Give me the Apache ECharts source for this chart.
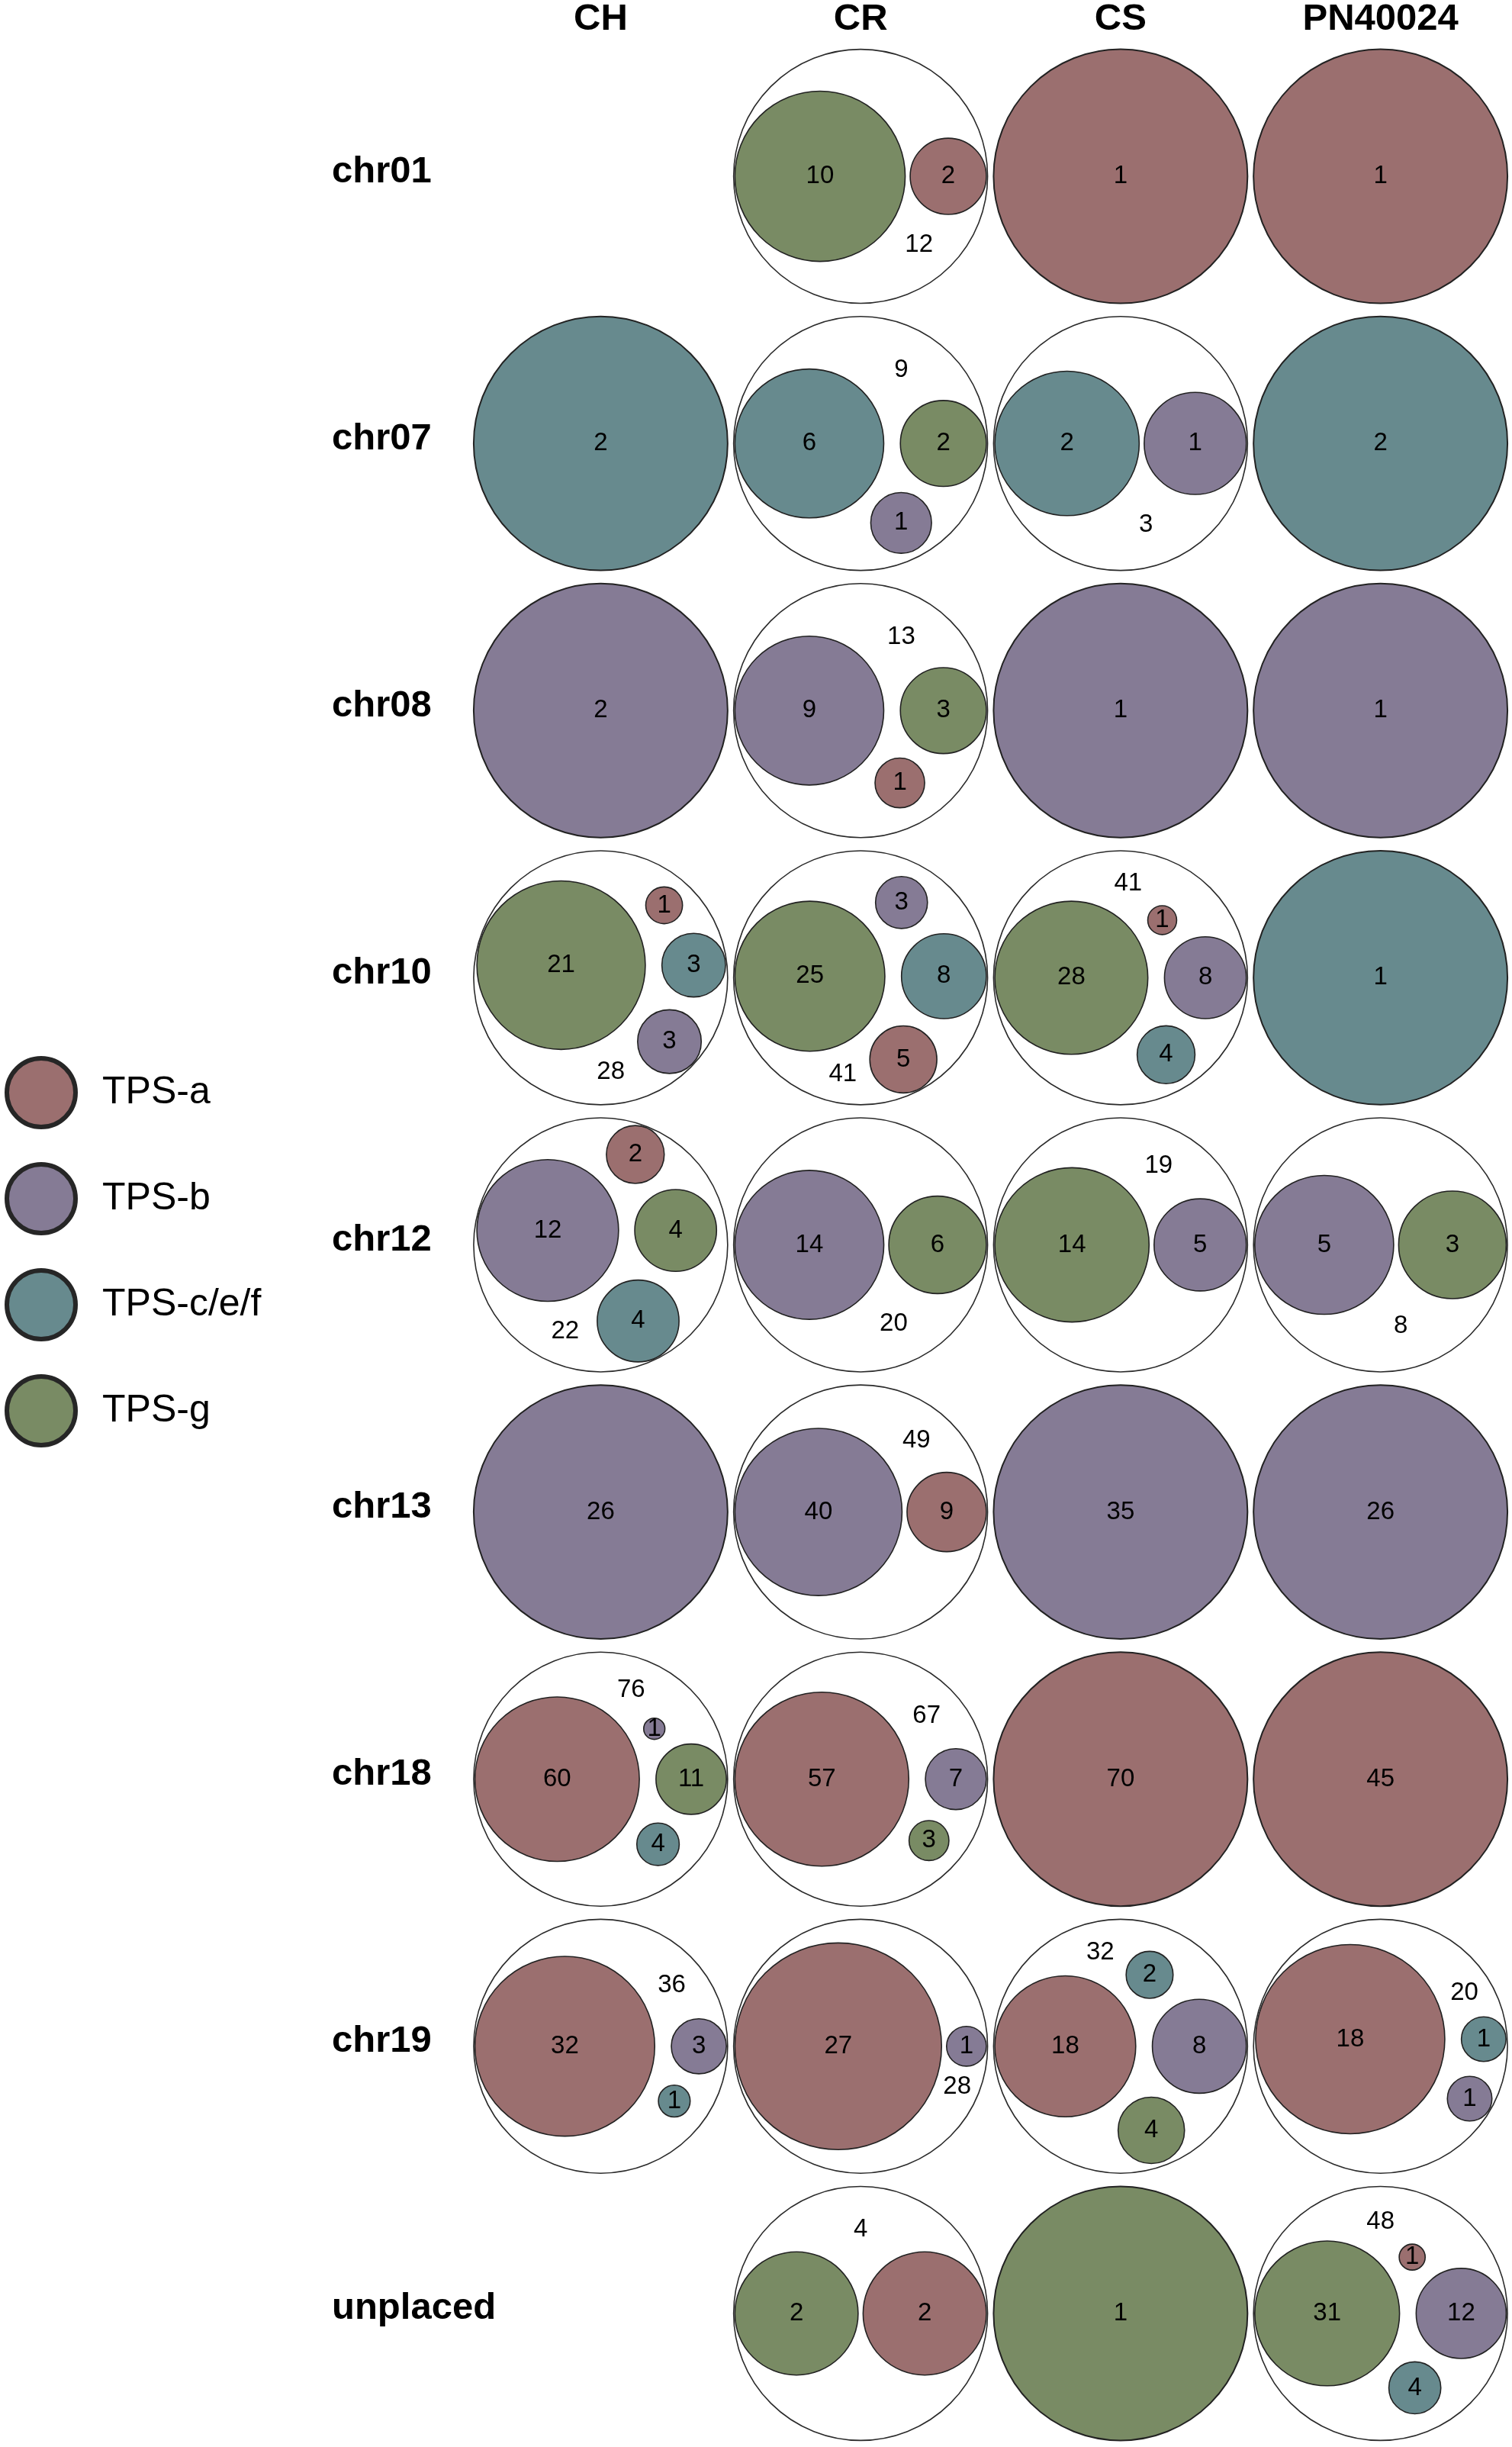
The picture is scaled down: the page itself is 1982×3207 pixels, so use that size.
<!DOCTYPE html>
<html>
<head>
<meta charset="utf-8">
<title>TPS subfamilies per chromosome</title>
<script src="https://cdn.jsdelivr.net/npm/echarts@6/dist/echarts.min.js"></script>
<style>
html, body { margin: 0; padding: 0; background: #fff; }
#container { width: 1982px; height: 3207px; }
</style>
</head>
<body>
<div id="container"></div>
<script>
var genomes = ['CH', 'CR', 'CS', 'PN40024'];
var chromosomes = ['chr01', 'chr07', 'chr08', 'chr10', 'chr12', 'chr13', 'chr18', 'chr19', 'unplaced'];
var families = ['TPS-a', 'TPS-b', 'TPS-c/e/f', 'TPS-g'];
var familyColors = ['#9b6f6f', '#857b95', '#678a8e', '#798b64'];

// gene counts, one row per chromosome, columns CH, CR, CS, PN40024
var tpsA = [
  [0, 2, 1, 1],
  [0, 0, 0, 0],
  [0, 1, 0, 0],
  [1, 5, 1, 0],
  [2, 0, 0, 0],
  [0, 9, 0, 0],
  [60, 57, 70, 45],
  [32, 27, 18, 18],
  [0, 2, 0, 1]
];
var tpsB = [
  [0, 0, 0, 0],
  [0, 1, 1, 0],
  [2, 9, 1, 1],
  [3, 3, 8, 0],
  [12, 14, 5, 5],
  [26, 40, 35, 26],
  [1, 7, 0, 0],
  [3, 1, 8, 1],
  [0, 0, 0, 12]
];
var tpsCEF = [
  [0, 0, 0, 0],
  [2, 6, 2, 2],
  [0, 0, 0, 0],
  [3, 8, 4, 1],
  [4, 0, 0, 0],
  [0, 0, 0, 0],
  [4, 0, 0, 0],
  [1, 0, 2, 1],
  [0, 0, 0, 4]
];
var tpsG = [
  [0, 10, 0, 0],
  [0, 2, 0, 0],
  [0, 3, 0, 0],
  [21, 25, 28, 0],
  [4, 6, 14, 3],
  [0, 0, 0, 0],
  [11, 3, 0, 0],
  [0, 0, 4, 0],
  [0, 2, 1, 31]
];
var counts = [tpsA, tpsB, tpsCEF, tpsG];

var FONT = "'Liberation Sans', Arial, Helvetica, sans-serif";

// ---- circle packing (front-chain, same idea as d3.packSiblings) ----
function place(b, a, c) {
  var dx = b.x - a.x, dy = b.y - a.y, d2 = dx * dx + dy * dy, x, y, a2, b2;
  if (d2) {
    a2 = a.r + c.r; a2 *= a2;
    b2 = b.r + c.r; b2 *= b2;
    if (a2 > b2) {
      x = (d2 + b2 - a2) / (2 * d2);
      y = Math.sqrt(Math.max(0, b2 / d2 - x * x));
      c.x = b.x - x * dx - y * dy;
      c.y = b.y - x * dy + y * dx;
    } else {
      x = (d2 + a2 - b2) / (2 * d2);
      y = Math.sqrt(Math.max(0, a2 / d2 - x * x));
      c.x = a.x + x * dx - y * dy;
      c.y = a.y + x * dy + y * dx;
    }
  } else {
    c.x = a.x + c.r; c.y = a.y;
  }
}
function intersects(a, b) {
  var dr = a.r + b.r - 1e-6, dx = b.x - a.x, dy = b.y - a.y;
  return dr > 0 && dr * dr > dx * dx + dy * dy;
}
function score(node) {
  var a = node._, b = node.next._, ab = a.r + b.r,
      dx = (a.x * b.r + b.x * a.r) / ab, dy = (a.y * b.r + b.y * a.r) / ab;
  return dx * dx + dy * dy;
}
function encloseBasis2(a, b) {
  var x21 = b.x - a.x, y21 = b.y - a.y, r21 = b.r - a.r, l = Math.sqrt(x21 * x21 + y21 * y21);
  return { x: (a.x + b.x + x21 / l * r21) / 2, y: (a.y + b.y + y21 / l * r21) / 2, r: (l + a.r + b.r) / 2 };
}
function encloseBasis3(a, b, c) {
  var x1 = a.x, y1 = a.y, r1 = a.r, x2 = b.x, y2 = b.y, r2 = b.r, x3 = c.x, y3 = c.y, r3 = c.r,
      a2 = x1 - x2, a3 = x1 - x3, b2 = y1 - y2, b3 = y1 - y3, c2 = r2 - r1, c3 = r3 - r1,
      d1 = x1 * x1 + y1 * y1 - r1 * r1,
      d2 = d1 - x2 * x2 - y2 * y2 + r2 * r2,
      d3 = d1 - x3 * x3 - y3 * y3 + r3 * r3,
      ab = a3 * b2 - a2 * b3,
      xa = (b2 * d3 - b3 * d2) / (ab * 2) - x1, xb = (b3 * c2 - b2 * c3) / ab,
      ya = (a3 * d2 - a2 * d3) / (ab * 2) - y1, yb = (a2 * c3 - a3 * c2) / ab,
      A = xb * xb + yb * yb - 1, B = 2 * (r1 + xa * xb + ya * yb), C = xa * xa + ya * ya - r1 * r1,
      r = -(Math.abs(A) > 1e-6 ? (B + Math.sqrt(B * B - 4 * A * C)) / (2 * A) : C / B);
  return { x: x1 + xa + xb * r, y: y1 + ya + yb * r, r: r };
}
function enclosesWeak(e, c) {
  var dr = e.r - c.r + Math.max(e.r, c.r, 1) * 1e-6, dx = c.x - e.x, dy = c.y - e.y;
  return dr > 0 && dr * dr > dx * dx + dy * dy;
}
// few circles only, so try every basis of 1, 2 or 3 circles
function encloseSmall(list) {
  var cands = [], best = null, i, j, k;
  for (i = 0; i < list.length; i++) {
    cands.push({ x: list[i].x, y: list[i].y, r: list[i].r });
    for (j = i + 1; j < list.length; j++) {
      cands.push(encloseBasis2(list[i], list[j]));
      for (k = j + 1; k < list.length; k++) cands.push(encloseBasis3(list[i], list[j], list[k]));
    }
  }
  cands.forEach(function (e) {
    if (!isFinite(e.r) || !isFinite(e.x) || !isFinite(e.y) || e.r <= 0) return;
    if (list.every(function (c) { return enclosesWeak(e, c); }) && (!best || e.r < best.r)) best = e;
  });
  return best;
}
function packSiblings(circles) {
  var n = circles.length, a, b, c, aa, ca, i, j, k, sj, sk;
  a = circles[0]; a.x = 0; a.y = 0;
  if (n > 1) {
    b = circles[1]; a.x = -b.r; b.x = a.r; b.y = 0;
  }
  if (n > 2) {
    place(b, a, c = circles[2]);
    a = { _: a }; b = { _: b }; c = { _: c };
    a.next = c.previous = b;
    b.next = a.previous = c;
    c.next = b.previous = a;
    pack: for (i = 3; i < n; ++i) {
      place(a._, b._, c = circles[i]); c = { _: c };
      j = b.next; k = a.previous; sj = b._.r; sk = a._.r;
      do {
        if (sj <= sk) {
          if (intersects(j._, c._)) { b = j; a.next = b; b.previous = a; --i; continue pack; }
          sj += j._.r; j = j.next;
        } else {
          if (intersects(k._, c._)) { a = k; a.next = b; b.previous = a; --i; continue pack; }
          sk += k._.r; k = k.previous;
        }
      } while (j !== k.next);
      c.previous = a; c.next = b; a.next = b.previous = b = c;
      aa = score(a);
      while ((c = c.next) !== b) {
        if ((ca = score(c)) < aa) { a = c; aa = ca; }
      }
      b = a.next;
    }
  }
  var e = encloseSmall(circles);
  circles.forEach(function (q) { q.x -= e.x; q.y -= e.y; });
  return e.r;
}

// ---- layout of one cell, in units of the outer circle radius ----
var INNER = 0.99;                 // children fit inside this radius
var GAP_PAIR = 0.04, GAP_MANY = 0.14;   // gap between sibling circles
var layoutCache = {};
function cellLayout(row, col) {
  var key = row + '_' + col;
  if (layoutCache[key]) return layoutCache[key];
  var kids = [], total = 0;
  counts.forEach(function (m, f) {
    if (m[row][col] > 0) { kids.push({ f: f, v: m[row][col] }); total += m[row][col]; }
  });
  kids.sort(function (p, q) { return q.v - p.v || q.f - p.f; });
  var out = { kids: {}, total: total, single: kids.length === 1, label: null };
  if (kids.length === 1) {
    out.kids[kids[0].f] = { x: 0, y: 0, r: 1 };
  } else if (kids.length > 1) {
    var gap = kids.length > 2 ? GAP_MANY : GAP_PAIR;
    var cs = kids.map(function (q) { return { r: Math.sqrt(q.v) }; });
    var k1 = INNER / packSiblings(cs);
    var pad = gap / 2 / k1;
    cs = kids.map(function (q) { return { r: Math.sqrt(q.v) + pad }; });
    var e2 = packSiblings(cs);
    var k2 = INNER / (e2 - pad);
    var placed = [];
    kids.forEach(function (q, i) {
      var p = { x: cs[i].x * k2, y: cs[i].y * k2, r: Math.sqrt(q.v) * k2 };
      out.kids[q.f] = p; placed.push(p);
    });
    // total goes into the emptiest spot of the outer circle
    var best = { x: 0, y: 0, s: -Infinity };
    for (var gy = -0.88; gy <= 0.88; gy += 0.02) {
      for (var gx = -0.88; gx <= 0.88; gx += 0.02) {
        var s = 1 - Math.sqrt(gx * gx + gy * gy);
        placed.forEach(function (p) {
          s = Math.min(s, Math.sqrt((gx - p.x) * (gx - p.x) + (gy - p.y) * (gy - p.y)) - p.r);
        });
        if (s > best.s) best = { x: gx, y: gy, s: s };
      }
    }
    out.label = best;
  }
  layoutCache[key] = out;
  return out;
}

function outerRadius(api) {
  var s = api.size([1, 1]);
  return Math.min(s[0], s[1]) / 2 * 0.977;
}

// ---- series data ----
var outerData = [];
chromosomes.forEach(function (ch, row) {
  genomes.forEach(function (g, col) {
    var n = counts.filter(function (m) { return m[row][col] > 0; }).length;
    if (n > 1) outerData.push([col, row, cellLayout(row, col).total]);
  });
});

var series = [{
  name: 'total',
  type: 'custom',
  z: 2,
  encode: { x: 0, y: 1 },
  data: outerData,
  renderItem: function (params, api) {
    var col = api.value(0), row = api.value(1);
    var c = api.coord([col, row]), R = outerRadius(api);
    var lay = cellLayout(row, col);
    return {
      type: 'group',
      children: [{
        type: 'circle',
        shape: { cx: c[0], cy: c[1], r: R },
        style: { fill: '#fff', stroke: '#2a2a2a', lineWidth: 1.6 }
      }, {
        type: 'text',
        style: {
          x: c[0] + lay.label.x * R, y: c[1] + lay.label.y * R,
          text: String(api.value(2)), fontSize: 33, fontFamily: FONT, fill: '#000',
          align: 'center', verticalAlign: 'middle'
        }
      }]
    };
  }
}];

families.forEach(function (fam, f) {
  var data = [];
  chromosomes.forEach(function (ch, row) {
    genomes.forEach(function (g, col) {
      if (counts[f][row][col] > 0) data.push([col, row, counts[f][row][col]]);
    });
  });
  series.push({
    name: fam,
    type: 'custom',
    z: 3,
    itemStyle: { color: familyColors[f] },
    encode: { x: 0, y: 1 },
    data: data,
    renderItem: function (params, api) {
      var col = api.value(0), row = api.value(1);
      var c = api.coord([col, row]), R = outerRadius(api);
      var lay = cellLayout(row, col), p = lay.kids[f];
      var cx = c[0] + p.x * R, cy = c[1] + p.y * R;
      return {
        type: 'group',
        children: [{
          type: 'circle',
          shape: { cx: cx, cy: cy, r: p.r * R },
          style: { fill: familyColors[f], stroke: '#222', lineWidth: lay.single ? 2 : 1.6 }
        }, {
          type: 'text',
          style: {
            x: cx, y: cy, text: String(api.value(2)), fontSize: 33, fontFamily: FONT,
            fill: '#000', align: 'center', verticalAlign: 'middle'
          }
        }]
      };
    }
  });
});

var myChart = echarts.init(document.getElementById('container'), null, { renderer: 'canvas' });
var option = {
  backgroundColor: '#fff',
  animation: false,
  textStyle: { fontFamily: FONT },
  legend: {
    orient: 'vertical',
    left: 6,
    top: 1384,
    padding: 0,
    itemWidth: 90,
    itemHeight: 90,
    itemGap: 43,
    selectedMode: false,
    textStyle: { fontSize: 50, color: '#000', fontFamily: FONT, padding: [0, 0, 0, 30] },
    data: families.map(function (fam, f) {
      return {
        name: fam, icon: 'circle',
        itemStyle: { color: familyColors[f], borderColor: '#262626', borderWidth: 6 }
      };
    })
  },
  grid: { left: 617, top: 56, width: 1363, height: 3154 },
  xAxis: {
    type: 'category',
    position: 'top',
    data: genomes,
    axisLine: { show: false },
    axisTick: { show: false },
    splitLine: { show: false },
    axisLabel: {
      fontSize: 49, fontWeight: 'bold', color: '#000', fontFamily: FONT,
      margin: 31, verticalAlign: 'middle'
    }
  },
  yAxis: {
    type: 'category',
    inverse: true,
    data: chromosomes,
    axisLine: { show: false },
    axisTick: { show: false },
    splitLine: { show: false },
    axisLabel: {
      align: 'left', margin: 182, verticalAlign: 'middle',
      formatter: function (v) { return '{r|' + v + '}'; },
      rich: {
        r: {
          fontSize: 49, fontWeight: 'bold', color: '#000', fontFamily: FONT,
          padding: [0, 0, 12, 0]
        }
      }
    }
  },
  series: series
};
myChart.setOption(option);
</script>
</body>
</html>
